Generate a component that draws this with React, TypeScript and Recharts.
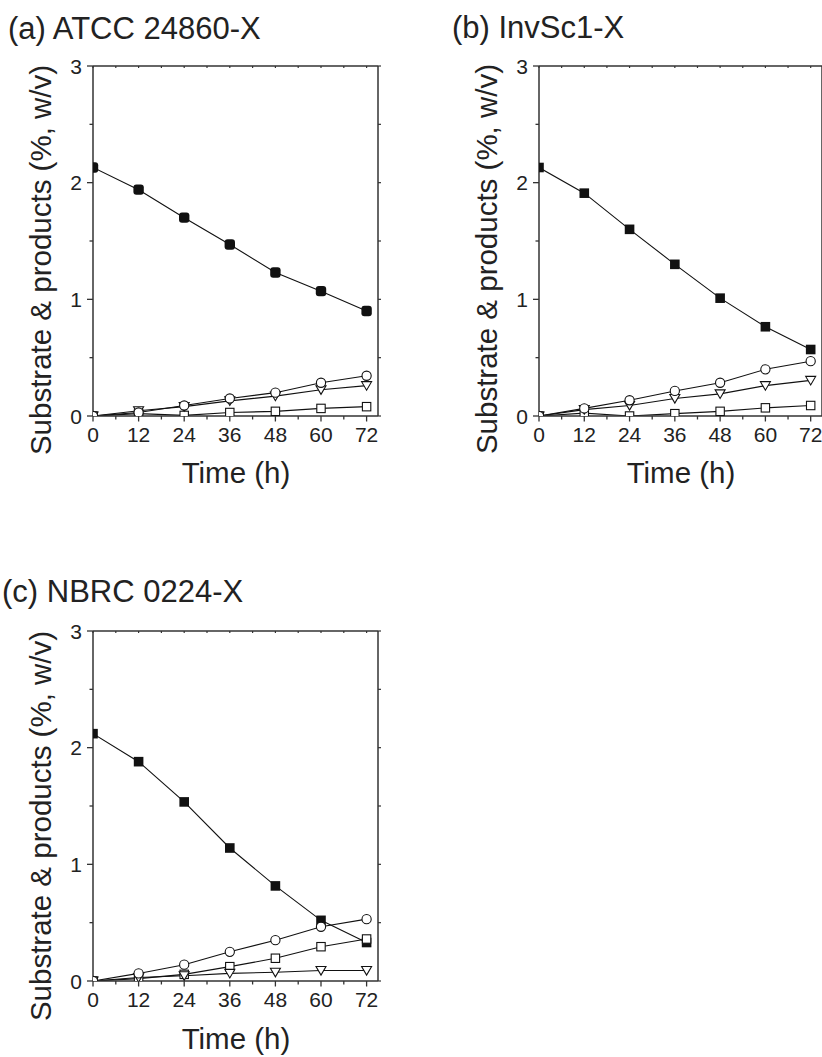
import React from 'react';
import { LineChart, Line, XAxis, YAxis } from 'recharts';

// ---------- data ----------
const timeH = [0, 12, 24, 36, 48, 60, 72];

const aFilled = [2.13, 1.94, 1.7, 1.47, 1.23, 1.07, 0.9];
const aCircle = [0, 0.03, 0.09, 0.15, 0.2, 0.285, 0.345];
const aTriangle = [0, 0.045, 0.08, 0.13, 0.17, 0.225, 0.26];
const aSquare = [0, 0.02, 0.005, 0.03, 0.04, 0.065, 0.08];

const bFilled = [2.13, 1.91, 1.6, 1.3, 1.01, 0.765, 0.57];
const bCircle = [0, 0.065, 0.135, 0.215, 0.285, 0.4, 0.47];
const bTriangle = [0, 0.055, 0.09, 0.15, 0.19, 0.26, 0.305];
const bSquare = [0, 0.025, 0.0, 0.02, 0.04, 0.07, 0.09];

const cFilled = [2.12, 1.88, 1.535, 1.14, 0.815, 0.52, 0.33];
const cCircle = [0, 0.065, 0.14, 0.25, 0.35, 0.465, 0.53];
const cTriangle = [0, 0.03, 0.045, 0.065, 0.075, 0.09, 0.09];
const cSquare = [0, 0.02, 0.057, 0.123, 0.195, 0.294, 0.36];

const xTicks = [0, 6, 12, 18, 24, 30, 36, 42, 48, 54, 60, 66, 72];
const yTicks = [0, 0.5, 1, 1.5, 2, 2.5, 3];
const xLabelTicks = [0, 12, 24, 36, 48, 60, 72];
const yLabelTicks = [0, 1, 2, 3];

const panelTitles = ['(a) ATCC 24860-X', '(b) InvSc1-X', '(c) NBRC 0224-X'];
const yAxisTitle = 'Substrate & products (%, w/v)';
const xAxisTitle = 'Time (h)';

// ---------- helpers ----------
const INK = '#222';
const AXIS = '#333';
const FONT = '"Liberation Sans", Arial, Helvetica, sans-serif';

function buildRows(f: number[], c: number[], t: number[], s: number[]) {
  return timeH.map((h, i) => ({ t: h, filled: f[i], circle: c[i], triangle: t[i], square: s[i] }));
}

const LeftTick = (props: any) => {
  const { x, y, payload } = props;
  const v = payload.value;
  const major = yLabelTicks.includes(v);
  return (
    <g>
      <line x1={x} x2={x - (major ? 6 : 3.5)} y1={y} y2={y} stroke={AXIS} strokeWidth={1.3} />
      {major && (
        <text x={x - 11} y={y + 7.5} textAnchor="end" fontSize={21} fill={INK} fontFamily={FONT}>
          {v}
        </text>
      )}
    </g>
  );
};

const BottomTick = (props: any) => {
  const { x, y, payload } = props;
  const v = payload.value;
  const major = xLabelTicks.includes(v);
  return (
    <g>
      <line x1={x} x2={x} y1={y} y2={y + (major ? 5.5 : 3.5)} stroke={AXIS} strokeWidth={1.3} />
      {major && (
        <text x={x} y={y + 26} textAnchor="middle" fontSize={21} fill={INK} fontFamily={FONT}>
          {v}
        </text>
      )}
    </g>
  );
};

const RightTick = (props: any) => {
  const { x, y } = props;
  return <line x1={x} x2={x + 3} y1={y} y2={y} stroke={AXIS} strokeWidth={1.2} />;
};

const TopTick = (props: any) => {
  const { x, y } = props;
  return <line x1={x} x2={x} y1={y} y2={y + 2} stroke={AXIS} strokeWidth={1.2} />;
};

const filledSquare = (props: any) => {
  const { cx, cy, index } = props;
  return <rect key={`fs-${index}`} x={cx - 4.8} y={cy - 4.8} width={9.6} height={9.6} fill="#111" />;
};
const filledRounded = (props: any) => {
  const { cx, cy, index } = props;
  return <rect key={`fr-${index}`} x={cx - 5.2} y={cy - 5.2} width={10.4} height={10.4} rx={3} fill="#111" />;
};
const openCircle = (props: any) => {
  const { cx, cy, index } = props;
  return <circle key={`oc-${index}`} cx={cx} cy={cy} r={4.6} fill="#fff" stroke="#111" strokeWidth={1.1} />;
};
const openTriangle = (props: any) => {
  const { cx, cy, index } = props;
  const pts = `${cx - 5},${cy - 4} ${cx + 5},${cy - 4} ${cx},${cy + 4.6}`;
  return <polygon key={`ot-${index}`} points={pts} fill="#fff" stroke="#111" strokeWidth={1.1} />;
};
const openSquare = (props: any) => {
  const { cx, cy, index } = props;
  return <rect key={`os-${index}`} x={cx - 4.2} y={cy - 4.2} width={8.4} height={8.4} fill="#fff" stroke="#111" strokeWidth={1.1} />;
};

type PanelProps = {
  data: any[];
  width: number;
  height: number;
  margin: { top: number; right: number; bottom: number; left: number };
  rounded?: boolean;
};

// axis box sizes (added to margins by Recharts)
const LEFT_W = 30;
const RIGHT_W = 2;
const BOTTOM_H = 30;
const TOP_H = 2;

const Panel = ({ data, width, height, margin, rounded }: PanelProps) => (
  <LineChart width={width} height={height} data={data} margin={margin}>
    <XAxis
      dataKey="t"
      type="number"
      domain={[0, 75]}
      ticks={xTicks}
      interval={0}
      height={BOTTOM_H}
      tickSize={0}
      tickMargin={0}
      tick={BottomTick}
      axisLine={{ stroke: AXIS, strokeWidth: 1.5 }}
      allowDataOverflow
    />
    <XAxis
      xAxisId="top"
      orientation="top"
      dataKey="t"
      type="number"
      domain={[0, 75]}
      ticks={xTicks}
      interval={0}
      height={TOP_H}
      tickSize={0}
      tickMargin={0}
      tick={TopTick}
      axisLine={{ stroke: AXIS, strokeWidth: 1.5 }}
      allowDataOverflow
    />
    <YAxis
      type="number"
      domain={[0, 3]}
      ticks={yTicks}
      interval={0}
      width={LEFT_W}
      tickSize={0}
      tickMargin={0}
      tick={LeftTick}
      axisLine={{ stroke: AXIS, strokeWidth: 1.5 }}
      allowDataOverflow
    />
    <YAxis
      yAxisId="right"
      orientation="right"
      type="number"
      domain={[0, 3]}
      ticks={yTicks}
      interval={0}
      width={RIGHT_W}
      tickSize={0}
      tickMargin={0}
      tick={RightTick}
      axisLine={{ stroke: AXIS, strokeWidth: 1.5 }}
      allowDataOverflow
    />
    <Line dataKey="filled" stroke="#111" strokeWidth={1.1} dot={rounded ? filledRounded : filledSquare} activeDot={false} isAnimationActive={false} />
    <Line dataKey="square" stroke="#111" strokeWidth={1.1} dot={openSquare} activeDot={false} isAnimationActive={false} />
    <Line dataKey="triangle" stroke="#111" strokeWidth={1.1} dot={openTriangle} activeDot={false} isAnimationActive={false} />
    <Line dataKey="circle" stroke="#111" strokeWidth={1.1} dot={openCircle} activeDot={false} isAnimationActive={false} />
  </LineChart>
);

const dataA = buildRows(aFilled, aCircle, aTriangle, aSquare);
const dataB = buildRows(bFilled, bCircle, bTriangle, bSquare);
const dataC = buildRows(cFilled, cCircle, cTriangle, cSquare);

const marginA = { top: 66 - TOP_H, right: 22 - RIGHT_W, bottom: 76 - BOTTOM_H, left: 93 - LEFT_W };
const marginB = { top: 66 - TOP_H, right: 8 - RIGHT_W, bottom: 76 - BOTTOM_H, left: 119 - LEFT_W };

export default function App() {
  const titleStyle = { fontSize: 31, fill: INK, fontFamily: FONT } as any;
  const labelStyle = { fontSize: 29.5, fill: INK, fontFamily: FONT } as any;
  return (
    <div
      style={{
        position: 'absolute',
        left: 0,
        top: 0,
        width: 822,
        height: 1057,
        overflow: 'hidden',
        background: '#fff',
      }}
    >
      <div style={{ position: 'absolute', left: 0, top: 0 }}>
        <Panel data={dataA} width={400} height={492} margin={marginA} rounded />
      </div>
      <div style={{ position: 'absolute', left: 420, top: 0 }}>
        <Panel data={dataB} width={410} height={492} margin={marginB} />
      </div>
      <div style={{ position: 'absolute', left: 0, top: 565 }}>
        <Panel data={dataC} width={400} height={492} margin={marginA} />
      </div>
      <svg width={822} height={1057} style={{ position: 'absolute', left: 0, top: 0, pointerEvents: 'none' }}>
        <text x={8} y={39} style={titleStyle}>{panelTitles[0]}</text>
        <text x={452} y={38} style={titleStyle}>{panelTitles[1]}</text>
        <text x={2} y={602} style={titleStyle}>{panelTitles[2]}</text>

        <text x={40} y={260} textAnchor="middle" dominantBaseline="central" transform="rotate(-90 40 260)" style={labelStyle}>{yAxisTitle}</text>
        <text x={486} y={259} textAnchor="middle" dominantBaseline="central" transform="rotate(-90 486 259)" style={labelStyle}>{yAxisTitle}</text>
        <text x={40} y={826} textAnchor="middle" dominantBaseline="central" transform="rotate(-90 40 826)" style={labelStyle}>{yAxisTitle}</text>

        <text x={236} y={483} textAnchor="middle" style={labelStyle}>{xAxisTitle}</text>
        <text x={681} y={483} textAnchor="middle" style={labelStyle}>{xAxisTitle}</text>
        <text x={236} y={1049} textAnchor="middle" style={labelStyle}>{xAxisTitle}</text>
      </svg>
    </div>
  );
}
